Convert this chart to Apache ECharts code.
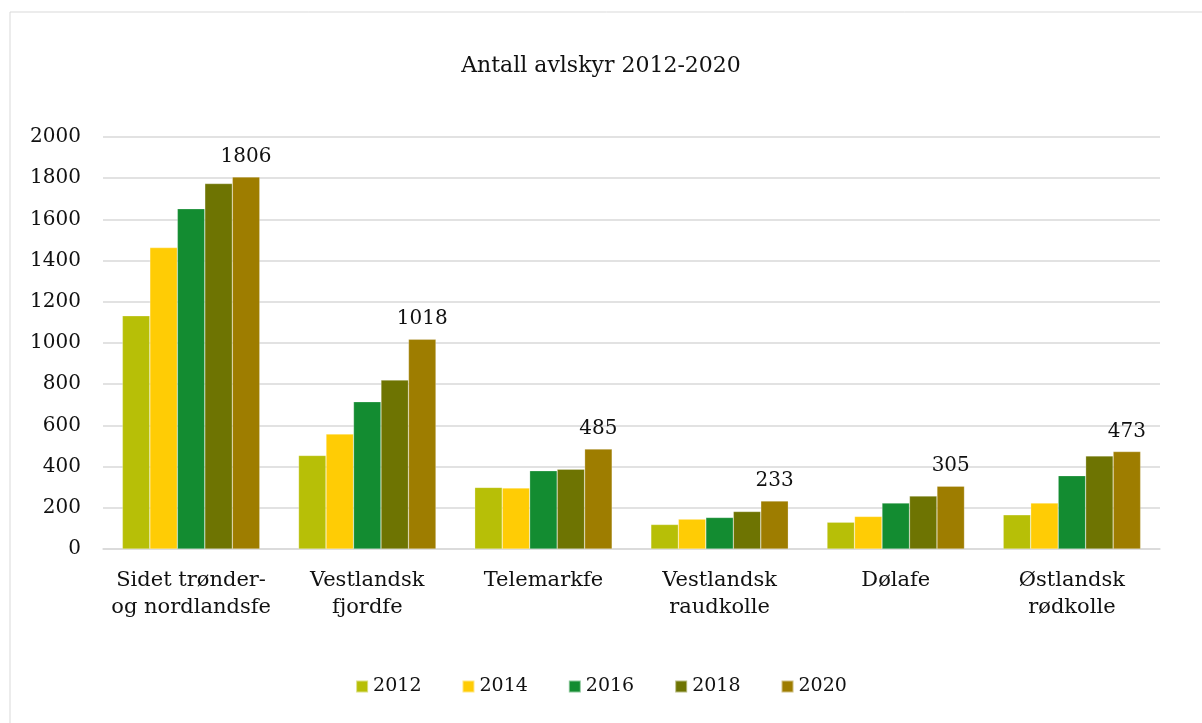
<!DOCTYPE html>
<html>
<head>
<meta charset="utf-8">
<script src="https://cdn.jsdelivr.net/npm/echarts@6/dist/echarts.min.js"></script>
<style>
  html, body { margin: 0; padding: 0; background: #fff; }
  #charts_main { width: 1202px; height: 723px; }
</style>
</head>
<body>
<div id="charts_main"></div>
<script>
const categories = [
  'Sidet trønder-\nog nordlandsfe',
  'Vestlandsk\nfjordfe',
  'Telemarkfe',
  'Vestlandsk\nraudkolle',
  'Dølafe',
  'Østlandsk\nrødkolle'
];
const years = ['2012', '2014', '2016', '2018', '2020'];
const values2012 = [1132, 454, 299, 119, 130, 166];
const values2014 = [1463, 558, 296, 145, 158, 223];
const values2016 = [1652, 715, 380, 153, 223, 356];
const values2018 = [1774, 820, 387, 182, 257, 452];
const values2020 = [1806, 1018, 485, 233, 305, 473];
const yTicks = [0, 200, 400, 600, 800, 1000, 1200, 1400, 1600, 1800, 2000];

const colors = ['#b7bf07', '#ffcc05', '#138c31', '#6e7402', '#9e7d00'];
const font = '"DejaVu Serif", "Liberation Serif", serif';
const allValues = [values2012, values2014, values2016, values2018, values2020];

function init() {
  let Chart = echarts.init(document.getElementById('charts_main'));

  let series = years.map(function (y, i) {
    return {
      name: y,
      type: 'bar',
      barGap: '0%',
      barCategoryGap: '22%',
      itemStyle: { color: colors[i], borderColor: 'rgba(255,255,255,0.5)', borderWidth: 0.5 },
      label: {
        show: i === years.length - 1,
        position: 'top',
        distance: 10,
        color: '#111',
        fontFamily: font,
        fontSize: 20
      },
      data: allValues[i]
    };
  });

  let option = {
    animation: false,
    color: colors,
    textStyle: { fontFamily: font },
    graphic: [{
      type: 'rect',
      shape: { x: 10, y: 12, width: 1200, height: 720 },
      style: { fill: 'none', stroke: '#d9d9d9', lineWidth: 1 }
    }],
    title: {
      text: 'Antall avlskyr 2012-2020',
      left: 'center',
      top: 50,
      textStyle: { fontFamily: font, fontSize: 22, fontWeight: 'normal', color: '#111' }
    },
    legend: {
      data: years,
      bottom: 22,
      left: 'center',
      itemWidth: 12,
      itemHeight: 12,
      itemGap: 40,
      icon: 'rect',
      textStyle: { fontFamily: font, fontSize: 19, color: '#111' }
    },
    grid: {
      left: 103,
      right: 42,
      top: 137,
      bottom: 174,
      containLabel: false
    },
    xAxis: {
      type: 'category',
      data: categories,
      axisTick: { show: false },
      axisLine: { lineStyle: { color: '#d9d9d9', width: 1.5 } },
      axisLabel: {
        interval: 0,
        margin: 18,
        color: '#111',
        fontFamily: font,
        fontSize: 21,
        lineHeight: 27
      }
    },
    yAxis: {
      type: 'value',
      min: yTicks[0],
      max: yTicks[yTicks.length - 1],
      interval: 200,
      axisLine: { show: false },
      axisTick: { show: false },
      splitLine: { lineStyle: { color: '#d9d9d9', width: 1.5 } },
      axisLabel: {
        margin: 22,
        color: '#111',
        fontFamily: font,
        fontSize: 20,
        formatter: function (v) { return String(v); }
      }
    },
    series: series
  };
  Chart.setOption(option);
}

init();
</script>
</body>
</html>
